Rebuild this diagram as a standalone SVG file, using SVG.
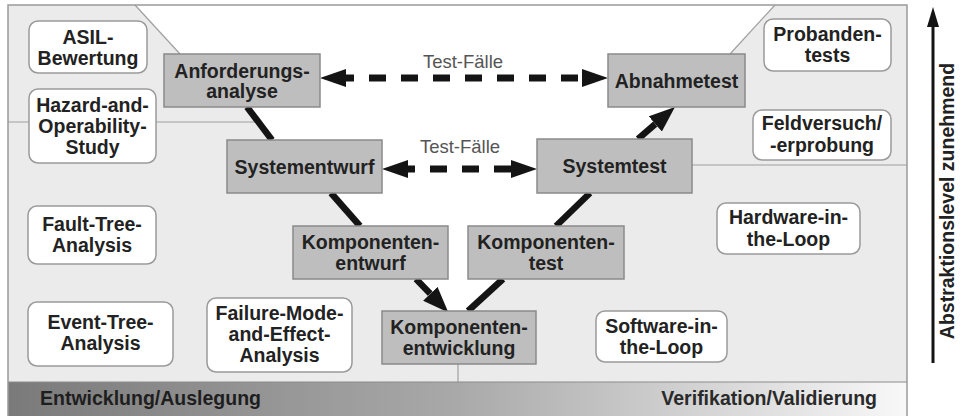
<svg xmlns="http://www.w3.org/2000/svg" width="961" height="416" viewBox="0 0 961 416">
<defs>
<linearGradient id="band" x1="0" y1="0" x2="1" y2="0">
<stop offset="0" stop-color="#7a7a7a"/>
<stop offset="0.5" stop-color="#a9a9a9"/>
<stop offset="1" stop-color="#f8f8f8"/>
</linearGradient>
<marker id="head" viewBox="0 0 26 20" refX="0" refY="10" markerWidth="26" markerHeight="20" markerUnits="userSpaceOnUse" orient="auto">
<path d="M0,0 L26,10 L0,20 Z" fill="#141414"/>
</marker>
<marker id="dhead" viewBox="0 0 26 18" refX="0" refY="9" markerWidth="26" markerHeight="18" markerUnits="userSpaceOnUse" orient="auto-start-reverse">
<path d="M0,0 L26,9 L0,18 Z" fill="#141414"/>
</marker>
</defs>
<style>
.t{font-family:"Liberation Sans",Arial,sans-serif;font-weight:bold;font-size:19.5px;fill:#222;text-anchor:middle}
.lbl{font-family:"Liberation Sans",Arial,sans-serif;font-size:18.5px;fill:#555;text-anchor:middle}
.band{font-family:"Liberation Sans",Arial,sans-serif;font-weight:bold;font-size:19.5px;fill:#1e1e1e}
.wb{fill:#fff;stroke:#9a9a9a;stroke-width:1.5}
.gb{fill:#bebebe;stroke:#8a8a8a;stroke-width:1.5}
.thin{stroke:#a0a0a0;stroke-width:1.2;fill:none}
.thick{stroke:#141414;stroke-width:6.5;fill:none}
.dash{stroke:#141414;stroke-width:7;fill:none}
</style>

<g id="background">
<rect x="8" y="5" width="899" height="377" fill="#ebebeb"/>
<path d="M135,5 L775,5 L730,54 L675,107 L640,139 L590,193 L556,226 L503,279 L468,311 L447,311 L418,279 L360,226 L331,193 L272,140 L247,107 L180,54 Z" fill="#fff"/>
<line class="thin" x1="135" y1="5" x2="180" y2="54"/>
<line class="thin" x1="775" y1="5" x2="730" y2="54"/>
<line class="thin" x1="8" y1="122" x2="258" y2="122"/>
<line class="thin" x1="692" y1="165" x2="907" y2="165"/>
<line class="thin" x1="458" y1="364" x2="458" y2="382"/>
<rect x="8" y="382" width="899" height="34" fill="url(#band)"/>
<line x1="8" y1="382" x2="907" y2="382" stroke="#8c8c8c" stroke-width="1.2"/>
<rect x="8" y="5" width="899" height="412" fill="none" stroke="#9a9a9a" stroke-width="1.5"/>
<text class="band" x="40" y="405">Entwicklung/Auslegung</text>
<text class="band" x="877" y="405" text-anchor="end" style="fill:#2a2a2a">Verifikation/Validierung</text>
</g>

<g id="axis">
<line x1="933" y1="363" x2="933" y2="24" stroke="#141414" stroke-width="3"/>
<path d="M933,7 L927,27 L939,27 Z" fill="#141414"/>
<text class="t" transform="translate(954,201) rotate(-90)">Abstraktionslevel zunehmend</text>
</g>

<g id="asil"><rect class="wb" x="29" y="21" width="118" height="52" rx="9"/><text class="t" x="88" y="43.5">ASIL-</text><text class="t" x="88" y="64.5">Bewertung</text></g>
<g id="hazop"><rect class="wb" x="29" y="89" width="127" height="74" rx="9"/><text class="t" x="92.5" y="112">Hazard-and-</text><text class="t" x="92.5" y="133">Operability-</text><text class="t" x="92.5" y="154">Study</text></g>
<g id="fta"><rect class="wb" x="28" y="206" width="128" height="58" rx="9"/><text class="t" x="92" y="231">Fault-Tree-</text><text class="t" x="92" y="252">Analysis</text></g>
<g id="eta"><rect class="wb" x="28" y="302" width="145" height="64" rx="9"/><text class="t" x="100.5" y="329">Event-Tree-</text><text class="t" x="100.5" y="350">Analysis</text></g>
<g id="fmea"><rect class="wb" x="207" y="298" width="145" height="74" rx="9"/><text class="t" x="279.5" y="320">Failure-Mode-</text><text class="t" x="279.5" y="341">and-Effect-</text><text class="t" x="279.5" y="362">Analysis</text></g>
<g id="probanden"><rect class="wb" x="764" y="19" width="127" height="52" rx="9"/><text class="t" x="827.5" y="40.5">Probanden-</text><text class="t" x="827.5" y="62">tests</text></g>
<g id="feld"><rect class="wb" x="753" y="110" width="138" height="50" rx="9"/><text class="t" x="822" y="130">Feldversuch/</text><text class="t" x="822" y="151.5">-erprobung</text></g>
<g id="hil"><rect class="wb" x="717" y="203" width="143" height="51" rx="9"/><text class="t" x="788.5" y="224">Hardware-in-</text><text class="t" x="788.5" y="246">the-Loop</text></g>
<g id="sil"><rect class="wb" x="596" y="311" width="131" height="51" rx="9"/><text class="t" x="661.5" y="332.5">Software-in-</text><text class="t" x="661.5" y="354">the-Loop</text></g>

<g id="connectors">
<line class="thick" x1="247" y1="107" x2="272" y2="140"/>
<line class="thick" x1="331" y1="193" x2="360" y2="226"/>
<line class="thick" x1="416" y1="279" x2="430.3" y2="293.8" marker-end="url(#head)"/>
<line class="thick" x1="468" y1="311" x2="503" y2="279"/>
<line class="thick" x1="556" y1="226" x2="590" y2="193"/>
<line class="thick" x1="638" y1="139" x2="655.3" y2="124" marker-end="url(#head)"/>
<line class="dash" x1="346" y1="78" x2="582" y2="78" stroke-dasharray="8 15 17 15 17 15 17 15 17 15 17 15 17 15 17 4" marker-start="url(#dhead)" marker-end="url(#dhead)"/>
<line class="dash" x1="408" y1="169" x2="511" y2="169" stroke-dasharray="7 15 17 15 17 15 17" marker-start="url(#dhead)" marker-end="url(#dhead)"/>
<text class="lbl" x="463" y="68">Test-Fälle</text>
<text class="lbl" x="460" y="153">Test-Fälle</text>
</g>

<g id="anforderung"><rect class="gb" x="164" y="54" width="156" height="53"/><text class="t" x="242" y="77.5">Anforderungs-</text><text class="t" x="242" y="98">analyse</text></g>
<g id="systementwurf"><rect class="gb" x="227" y="140" width="155" height="53"/><text class="t" x="304.5" y="173.5">Systementwurf</text></g>
<g id="komponentenentwurf"><rect class="gb" x="293" y="226" width="155" height="53"/><text class="t" x="370.5" y="249">Komponenten-</text><text class="t" x="370.5" y="270">entwurf</text></g>
<g id="komponentenentwicklung"><rect class="gb" x="382" y="311" width="154" height="53"/><text class="t" x="459" y="334">Komponenten-</text><text class="t" x="459" y="355">entwicklung</text></g>
<g id="komponententest"><rect class="gb" x="468" y="226" width="156" height="53"/><text class="t" x="546" y="249">Komponenten-</text><text class="t" x="546" y="270">test</text></g>
<g id="systemtest"><rect class="gb" x="537" y="139" width="155" height="54"/><text class="t" x="614.5" y="173">Systemtest</text></g>
<g id="abnahmetest"><rect class="gb" x="608" y="54" width="137" height="53"/><text class="t" x="676.5" y="87.5">Abnahmetest</text></g>
</svg>
